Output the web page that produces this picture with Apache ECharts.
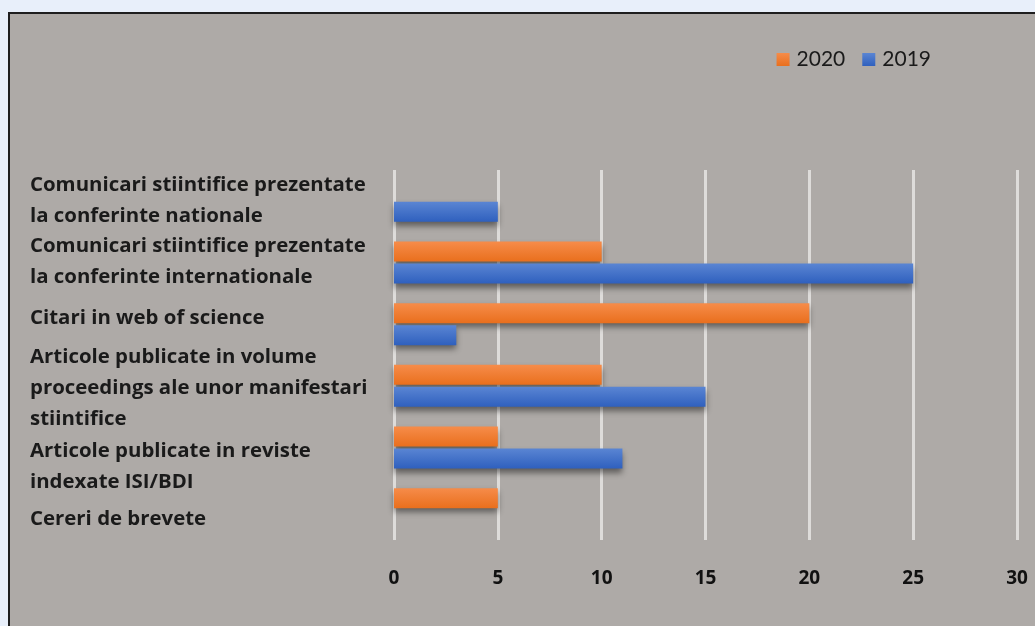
<!DOCTYPE html>
<html>
<head>
<meta charset="utf-8">
<script src="https://cdn.jsdelivr.net/npm/echarts@6/dist/echarts.min.js"></script>
<style>
html,body{margin:0;padding:0;width:1035px;height:626px;overflow:hidden;background:#e8effa;}
#frame{position:absolute;left:8px;top:12px;width:1040px;height:630px;background:#aeaaa7;border-left:2px solid #1e1e1e;border-top:2px solid #1e1e1e;}
#chart{position:absolute;left:0;top:0;width:1035px;height:626px;}
</style>
</head>
<body>
<div id="frame"></div>
<div id="chart"></div>
<script>
const categories = [
  "Comunicari stiintifice prezentate\nla conferinte nationale",
  "Comunicari stiintifice prezentate\nla conferinte internationale",
  "Citari in web of science",
  "Articole publicate in volume\nproceedings ale unor manifestari\nstiintifice",
  "Articole publicate in reviste\nindexate ISI/BDI",
  "Cereri de brevete"
];
const values2020 = [null, 10, 20, 10, 5, 5];
const values2019 = [5, 25, 3, 15, 11, null];
const xTicks = [0, 5, 10, 15, 20, 25, 30];

// small vertical nudges of the category labels (px, + = down), as in the original layout
const labelNudge = [0, -1, -6, 2, 19, 10];

const chart = echarts.init(document.getElementById('chart'), null, {renderer: 'canvas'});
function grad(top, bottom){
  return new echarts.graphic.LinearGradient(0,0,0,1,[{offset:0,color:top},{offset:1,color:bottom}]);
}
function catLabel(value, idx){
  const lines = value.split('\n').map(l => '{t|' + l + '}');
  const n = labelNudge[idx] || 0;
  if (n > 0) lines.unshift('{s' + idx + '| }');
  if (n < 0) lines.push('{s' + idx + '| }');
  return lines.join('\n');
}
const rich = {t: {fontSize: 20.4, fontWeight: 'bold', color: '#1a1a1a', lineHeight: 31, fontFamily: 'Open Sans'}};
labelNudge.forEach((n, i) => { rich['s' + i] = {fontSize: 1, lineHeight: Math.abs(n) * 2}; });

chart.setOption({
  backgroundColor: 'transparent',
  animation: false,
  textStyle: {fontFamily: 'Open Sans'},
  legend: {
    data: ['2020', '2019'],
    right: 99, top: 44,
    itemWidth: 13, itemHeight: 13, itemGap: 17,
    icon: 'rect',
    textStyle: {fontSize: 21, color: '#1a1a1a', fontFamily: 'Lato', padding: [0,0,0,2]}
  },
  grid: {left: 394, right: 18, top: 170, bottom: 86, containLabel: false},
  xAxis: {
    type: 'value', min: 0, max: 30, interval: 5,
    axisLine: {show: false}, axisTick: {show: false},
    splitLine: {lineStyle: {color: '#dedcda', width: 3}},
    axisLabel: {fontSize: 19, fontWeight: 'bold', color: '#111', margin: 29, fontFamily: 'Open Sans',
      formatter: v => xTicks.includes(v) ? String(v) : ''}
  },
  yAxis: {
    type: 'category', data: categories, inverse: true,
    axisLine: {show: false}, axisTick: {show: false},
    axisLabel: {interval: 0, align: 'left', margin: 364, formatter: catLabel, rich: rich}
  },
  series: [
    {name: '2020', type: 'bar', data: values2020, barWidth: 20, barGap: '10%',
      itemStyle: {color: grad('#f68c4a', '#e96f1d'), shadowColor: 'rgba(0,0,0,0.45)', shadowBlur: 6, shadowOffsetY: 4}},
    {name: '2019', type: 'bar', data: values2019, barWidth: 20, barGap: '10%',
      itemStyle: {color: grad('#5a85d3', '#2f60be'), shadowColor: 'rgba(0,0,0,0.45)', shadowBlur: 6, shadowOffsetY: 4}}
  ]
});
</script>
</body>
</html>
